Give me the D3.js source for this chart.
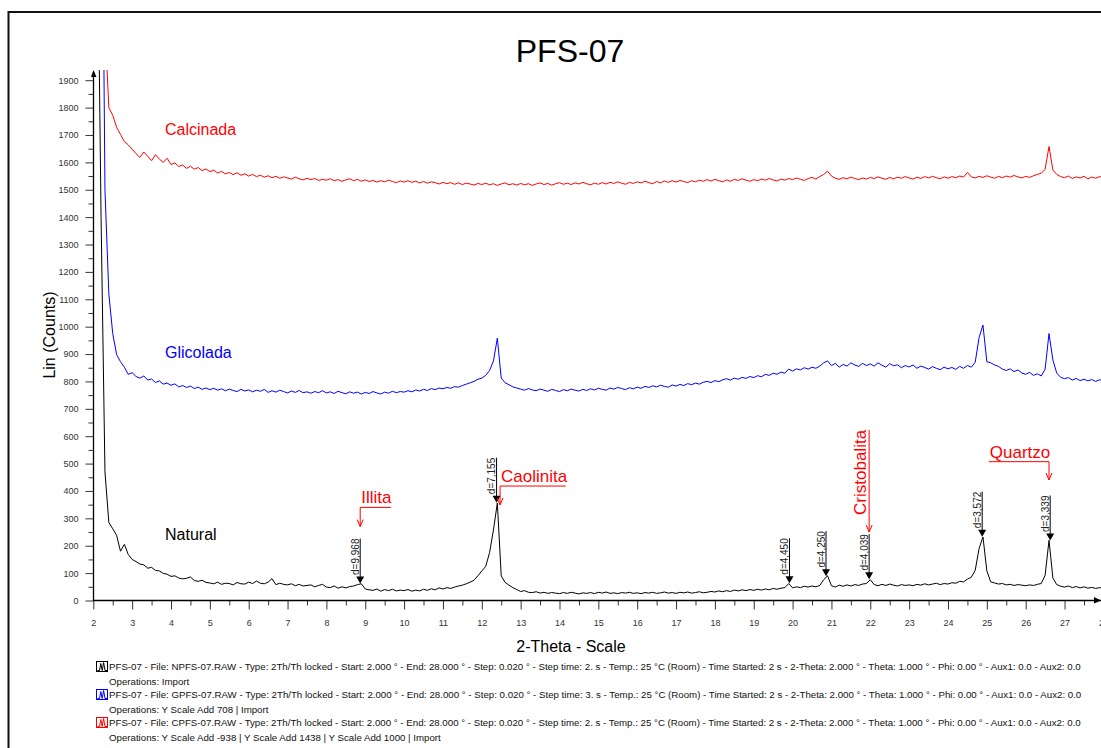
<!DOCTYPE html>
<html lang="en">
<head>
<meta charset="UTF-8">
<title>PFS-07</title>
<script src="https://d3js.org/d3.v7.min.js"></script>
<style>
  body { margin: 0; background: #fff; }
  svg { font-family: "Liberation Sans", Arial, sans-serif; }
</style>
</head>
<body>
<svg id="chart" width="1101" height="748"></svg>
<script>
var thetaStart = 2, thetaStep = 0.1;

var natural = [
  4000, 2600, 1400, 470, 285, 262, 238, 180, 205, 168,
  150, 142, 133, 130, 118, 121, 110, 108, 99, 96,
  88, 90, 82, 79, 81, 86, 73, 70, 74, 66,
  64, 61, 67, 59, 63, 62, 57, 66, 61, 60,
  67, 62, 71, 63, 61, 67, 80, 58, 63, 59,
  57, 61, 54, 59, 53, 55, 57, 50, 55, 59,
  49, 47, 53, 45, 50, 46, 51, 53, 58, 61,
  42, 39, 37, 42, 34, 40, 36, 41, 35, 38,
  36, 40, 34, 38, 35, 41, 37, 43, 39, 46,
  42, 47, 44, 49, 53, 56, 61, 67, 74, 90,
  108, 124, 175, 258, 356, 90, 66, 56, 47, 40,
  33, 36, 30, 29, 32, 27, 30, 26, 29, 27,
  25, 29, 26, 30, 27, 24, 28, 26, 29, 25,
  30, 27, 31, 26, 28, 25, 29, 27, 30, 26,
  28, 25, 29, 27, 30, 26, 28, 31, 27, 29,
  26, 30, 28, 31, 27, 29, 32, 28, 30, 33,
  31, 35, 32, 36, 33, 38, 35, 39, 36, 40,
  37, 41, 38, 42, 39, 44, 41, 45, 47, 62,
  46, 50, 47, 52, 49, 53, 50, 55, 76, 90,
  54, 49, 56, 52, 57, 53, 58, 55, 60, 62,
  76, 58, 54, 59, 55, 60, 56, 53, 58, 55,
  57, 54, 59, 56, 61, 57, 60, 63, 58, 62,
  60, 65, 63, 70, 68, 78, 85, 110, 190, 232,
  108, 68, 64, 60, 62, 57, 59, 55, 58, 56,
  54, 57, 55, 59, 62, 92, 220, 82, 58, 52,
  49, 53, 47, 51, 46, 50, 45, 48, 44, 47,
  45
];

var glicolada = [
  6000, 4500, 3200, 1500, 1120, 975, 898, 872, 852, 826,
  832, 818, 812, 820, 805, 809, 796, 802, 790, 794,
  786, 791, 780, 785, 778, 783, 774, 779, 771, 776,
  770, 775, 768, 773, 766, 772, 767, 763, 771, 765,
  769, 762, 768, 764, 771, 760, 766, 761, 768, 763,
  758, 765, 760, 767, 759, 762, 757, 763, 759, 766,
  758, 762, 756, 764, 759, 755, 762, 757, 761, 754,
  760, 756, 763, 758, 754, 761, 757, 764, 759, 763,
  761, 766, 762, 769, 765, 771, 767, 774, 770, 776,
  773, 778, 775, 781, 779, 785, 790, 795, 800, 808,
  812, 822, 840, 875, 958, 812, 795, 788, 780, 776,
  772, 768, 774, 769, 766, 772, 768, 764, 771, 767,
  763, 770, 766, 772, 768, 765, 771, 767, 773, 769,
  775, 771, 768, 776, 772, 778, 774, 770, 777, 773,
  779, 775, 782, 778, 784, 780, 786, 782, 779, 787,
  783, 789, 785, 792, 788, 794, 790, 797, 800, 796,
  803, 799, 806, 810, 805, 812, 808, 815, 811, 818,
  814, 821, 817, 826, 822, 830, 826, 834, 830, 845,
  838, 846, 842, 850, 845, 852, 848, 856, 868, 875,
  858, 866, 852, 862, 856, 868, 860, 855, 866, 858,
  864, 856, 868, 859, 852, 865, 857, 861, 850, 858,
  853, 860, 848, 856, 851, 845, 854, 848, 843, 852,
  846, 851, 844, 855, 848, 858, 852, 870, 960, 1006,
  872, 868, 860, 855, 845, 840, 846, 836, 842, 831,
  826, 833, 822, 828, 820, 845, 975, 878, 830, 815,
  810, 814, 805, 811, 803, 808, 802, 807, 800, 806,
  803
];

var calcinada = [
  8000, 6000, 4200, 2100, 1800, 1772, 1728, 1702, 1676, 1664,
  1648, 1632, 1618, 1638, 1622, 1606, 1628, 1612, 1600, 1615,
  1592, 1598, 1585, 1590, 1578, 1586, 1575, 1581, 1570, 1576,
  1566, 1572, 1561, 1567, 1558, 1563, 1555, 1562, 1553, 1558,
  1550, 1556, 1548, 1553, 1546, 1551, 1544, 1549, 1542, 1547,
  1543, 1539, 1546, 1540, 1536, 1542, 1537, 1541, 1534, 1538,
  1535, 1540, 1533, 1537, 1531, 1536, 1540, 1533, 1538, 1531,
  1536, 1530, 1534, 1528, 1533, 1529, 1535, 1530, 1526, 1532,
  1528, 1533, 1527, 1531, 1525, 1530, 1524, 1529, 1526, 1521,
  1527, 1522, 1526, 1520, 1525, 1519, 1524, 1521, 1517, 1523,
  1519, 1524, 1518, 1522, 1516, 1521, 1525, 1518, 1522, 1517,
  1523, 1518, 1522, 1516, 1521, 1525, 1519, 1523, 1517, 1522,
  1526, 1520, 1524, 1519, 1525, 1521, 1527, 1522, 1518, 1524,
  1520, 1526, 1521, 1527, 1523, 1529, 1524, 1520, 1527, 1523,
  1529, 1525, 1531, 1526, 1522, 1530, 1525, 1532, 1527, 1533,
  1528, 1534, 1530, 1526, 1533, 1529, 1535, 1531, 1537, 1532,
  1538, 1533, 1529, 1536, 1531, 1538, 1534, 1540, 1535, 1531,
  1537, 1533, 1539, 1535, 1541, 1536, 1532, 1539, 1535, 1541,
  1537, 1543, 1538, 1534, 1541, 1545, 1539, 1548, 1556, 1568,
  1550, 1542, 1538, 1544, 1540, 1546, 1541, 1537, 1543, 1539,
  1545, 1541, 1547, 1542, 1538, 1545, 1540, 1546, 1542, 1548,
  1543, 1539, 1546, 1541, 1548, 1543, 1549, 1544, 1540, 1547,
  1542, 1548, 1544, 1550, 1546, 1563, 1547, 1543, 1549, 1545,
  1551, 1546, 1542, 1549, 1544, 1550, 1546, 1552, 1547, 1543,
  1549, 1545, 1551, 1556, 1560, 1575, 1658, 1572, 1556, 1548,
  1544, 1550, 1541, 1547, 1543, 1549, 1540, 1546, 1542, 1548,
  1545
];

// peak markers on the Natural scan
var peakD     = ["9,968", "7,155", "4,450", "4,250", "4,039", "3,572", "3,339"];
var peakTheta = [8.87, 12.38, 19.92, 20.86, 21.97, 24.88, 26.63];
var peakCount = [62, 357, 63, 89, 78, 233, 219];

// mineral labels (theta of arrow, arrow tip / elbow counts, theta where the leader ends)
var minerals = [
  { name: "Illita",    theta: 8.87,  tip: 270, elbow: 340, end: 9.66 },
  { name: "Caolinita", theta: 12.47, tip: 349, elbow: 418, end: 14.16 },
  { name: "Quartzo",   theta: 26.60, tip: 440, elbow: 507, end: 25.05 }
];
var cristobalita = { name: "Cristobalita", theta: 21.97, tip: 250, top: 623 };

var seriesNames = ["Natural", "Glicolada", "Calcinada"];
var seriesColors = ["#000000", "#0000ff", "#ff0000"];

var legendLines = [
  "PFS-07 - File: NPFS-07.RAW - Type: 2Th/Th locked - Start: 2.000 ° - End: 28.000 ° - Step: 0.020 ° - Step time: 2. s - Temp.: 25 °C (Room) - Time Started: 2 s - 2-Theta: 2.000 ° - Theta: 1.000 ° - Phi: 0.00 ° - Aux1: 0.0 - Aux2: 0.0",
  "PFS-07 - File: GPFS-07.RAW - Type: 2Th/Th locked - Start: 2.000 ° - End: 28.000 ° - Step: 0.020 ° - Step time: 3. s - Temp.: 25 °C (Room) - Time Started: 2 s - 2-Theta: 2.000 ° - Theta: 1.000 ° - Phi: 0.00 ° - Aux1: 0.0 - Aux2: 0.0",
  "PFS-07 - File: CPFS-07.RAW - Type: 2Th/Th locked - Start: 2.000 ° - End: 28.000 ° - Step: 0.020 ° - Step time: 2. s - Temp.: 25 °C (Room) - Time Started: 2 s - 2-Theta: 2.000 ° - Theta: 1.000 ° - Phi: 0.00 ° - Aux1: 0.0 - Aux2: 0.0"
];
var legendOps = [
  "Operations: Import",
  "Operations: Y Scale Add 708 | Import",
  "Operations: Y Scale Add -938 | Y Scale Add 1438 | Y Scale Add 1000 | Import"
];

var svg = d3.select("#chart");
var x = d3.scaleLinear().domain([2, 28]).range([93.3, 1103.4]);
var y = d3.scaleLinear().domain([0, 1930]).range([600.5, 72]);

// outer frame
svg.append("rect")
  .attr("x", 8.5).attr("y", 12).attr("width", 1200).attr("height", 800)
  .attr("fill", "none").attr("stroke", "#111").attr("stroke-width", 2);

// title
svg.append("text")
  .attr("x", 570).attr("y", 62)
  .attr("text-anchor", "middle")
  .attr("font-size", 32)
  .text("PFS-07");

// y axis
var yMajor = d3.range(0, 2000, 100);
var yMinor = d3.range(50, 1950, 100);
svg.append("g")
  .attr("transform", "translate(93.5,0)")
  .call(d3.axisLeft(y).tickValues(yMinor).tickSize(5).tickFormat(""))
  .call(function(g) { g.select(".domain").remove(); })
  .selectAll("line").attr("stroke", "#333");
var yg = svg.append("g")
  .attr("transform", "translate(93.5,0)")
  .call(d3.axisLeft(y).tickValues(yMajor).tickSize(8).tickPadding(7).tickFormat(d3.format("d")));
yg.select(".domain").remove();
yg.selectAll("line").attr("stroke", "#333");
yg.selectAll("text").attr("font-size", 9).attr("fill", "#333")
  .attr("font-family", "'Liberation Sans', Arial, sans-serif");

// x axis
var xMajor = d3.range(2, 29, 1);
var xMinor = d3.range(2.5, 28, 1);
svg.append("g")
  .attr("transform", "translate(0,600.5)")
  .call(d3.axisBottom(x).tickValues(xMinor).tickSize(5).tickFormat(""))
  .call(function(g) { g.select(".domain").remove(); })
  .selectAll("line").attr("stroke", "#333");
var xg = svg.append("g")
  .attr("transform", "translate(0,600.5)")
  .call(d3.axisBottom(x).tickValues(xMajor).tickSize(9).tickPadding(10).tickFormat(d3.format("d")));
xg.select(".domain").remove();
xg.selectAll("line").attr("stroke", "#333");
xg.selectAll("text").attr("font-size", 9).attr("fill", "#333")
  .attr("font-family", "'Liberation Sans', Arial, sans-serif");

// axis lines with arrow heads
svg.append("line")
  .attr("x1", 93.5).attr("y1", 601).attr("x2", 93.5).attr("y2", 72)
  .attr("stroke", "#000").attr("stroke-width", 1.3);
svg.append("path")
  .attr("d", "M91,77 L93.5,70 L96.5,77 Z").attr("fill", "#000");
svg.append("line")
  .attr("x1", 93).attr("y1", 600.5).attr("x2", 1101).attr("y2", 600.5)
  .attr("stroke", "#000").attr("stroke-width", 1.3);
svg.append("path")
  .attr("d", "M1094,597 L1101,600.5 L1094,603.5 Z").attr("fill", "#000");

// axis titles
svg.append("text")
  .attr("transform", "translate(55,335) rotate(-90)")
  .attr("text-anchor", "middle")
  .attr("font-size", 16)
  .text("Lin (Counts)");
svg.append("text")
  .attr("x", 571).attr("y", 652)
  .attr("text-anchor", "middle")
  .attr("font-size", 16)
  .text("2-Theta - Scale");

// scans
svg.append("clipPath").attr("id", "plotClip")
  .append("rect").attr("x", 94).attr("y", 70).attr("width", 1010).attr("height", 532);

var line = d3.line()
  .x(function(d, i) { return x(thetaStart + i * thetaStep); })
  .y(function(d) { return y(d); });

var plot = svg.append("g").attr("clip-path", "url(#plotClip)");
[calcinada, glicolada, natural].forEach(function(series, k) {
  plot.append("path")
    .attr("d", line(series))
    .attr("fill", "none")
    .attr("stroke", seriesColors[2 - k])
    .attr("stroke-width", 1)
    .attr("stroke-linejoin", "round");
});

// series names
var nameY = [540, 358, 135];
seriesNames.forEach(function(n, k) {
  svg.append("text")
    .attr("x", 165).attr("y", nameY[k])
    .attr("font-size", 16)
    .attr("fill", seriesColors[k])
    .text(n);
});

// d-spacing markers
var marks = svg.append("g");
peakD.forEach(function(dv, i) {
  var px = x(peakTheta[i]), py = y(peakCount[i]);
  marks.append("line")
    .attr("x1", px).attr("y1", py - 45).attr("x2", px).attr("y2", py - 6)
    .attr("stroke", "#000").attr("stroke-width", 1);
  marks.append("path")
    .attr("d", "M" + (px - 4) + "," + (py - 7) + " L" + (px + 4) + "," + (py - 7) + " L" + px + "," + py + " Z")
    .attr("fill", "#000");
  marks.append("text")
    .attr("transform", "translate(" + (px - 1.5) + "," + (py - 45) + ") rotate(-90)")
    .attr("text-anchor", "end")
    .attr("font-size", 10)
    .attr("fill", "#222")
    .text("d=" + dv);
});

// mineral labels
var ann = svg.append("g").attr("stroke", "#ff0000").attr("fill", "none");
minerals.forEach(function(m) {
  var px = x(m.theta), pe = x(m.end), ey = y(m.elbow), ty = y(m.tip);
  ann.append("path")
    .attr("d", "M" + pe + "," + ey + " L" + px + "," + ey + " L" + px + "," + ty);
  ann.append("path")
    .attr("d", "M" + (px - 3) + "," + (ty - 7) + " L" + px + "," + ty + " L" + (px + 3) + "," + (ty - 7));
  svg.append("text")
    .attr("x", Math.min(px, pe) + 1).attr("y", ey - 4)
    .attr("font-size", 17)
    .attr("fill", "#ff0000")
    .text(m.name);
});
(function(m) {
  var px = x(m.theta), ty = y(m.tip), tp = y(m.top);
  ann.append("path").attr("d", "M" + px + "," + tp + " L" + px + "," + ty);
  ann.append("path")
    .attr("d", "M" + (px - 3) + "," + (ty - 7) + " L" + px + "," + ty + " L" + (px + 3) + "," + (ty - 7));
  svg.append("text")
    .attr("transform", "translate(" + (px - 3) + "," + tp + ") rotate(-90)")
    .attr("text-anchor", "end")
    .attr("font-size", 17)
    .attr("fill", "#ff0000")
    .text(m.name);
})(cristobalita);

// legend
var legend = svg.append("g").attr("font-size", 9.7).attr("fill", "#111");
legendLines.forEach(function(t, k) {
  var by = 669.5 + k * 28;
  legend.append("rect")
    .attr("x", 96.5).attr("y", by - 8).attr("width", 11).attr("height", 10)
    .attr("fill", "#fff").attr("stroke", seriesColors[k]).attr("stroke-width", 1);
  legend.append("path")
    .attr("d", "M97.5," + (by + 1) + " L99.5," + (by + 1) + " L100.8," + (by - 6) + " L102.2," + (by + 1) +
      " L103.6," + (by - 7) + " L105," + (by + 1) + " L107," + (by + 1))
    .attr("fill", "none").attr("stroke", seriesColors[k]).attr("stroke-width", 1);
  legend.append("text").attr("x", 109).attr("y", by).text(t);
  legend.append("text").attr("x", 109).attr("y", by + 15).text(legendOps[k]);
});
</script>
</body>
</html>
